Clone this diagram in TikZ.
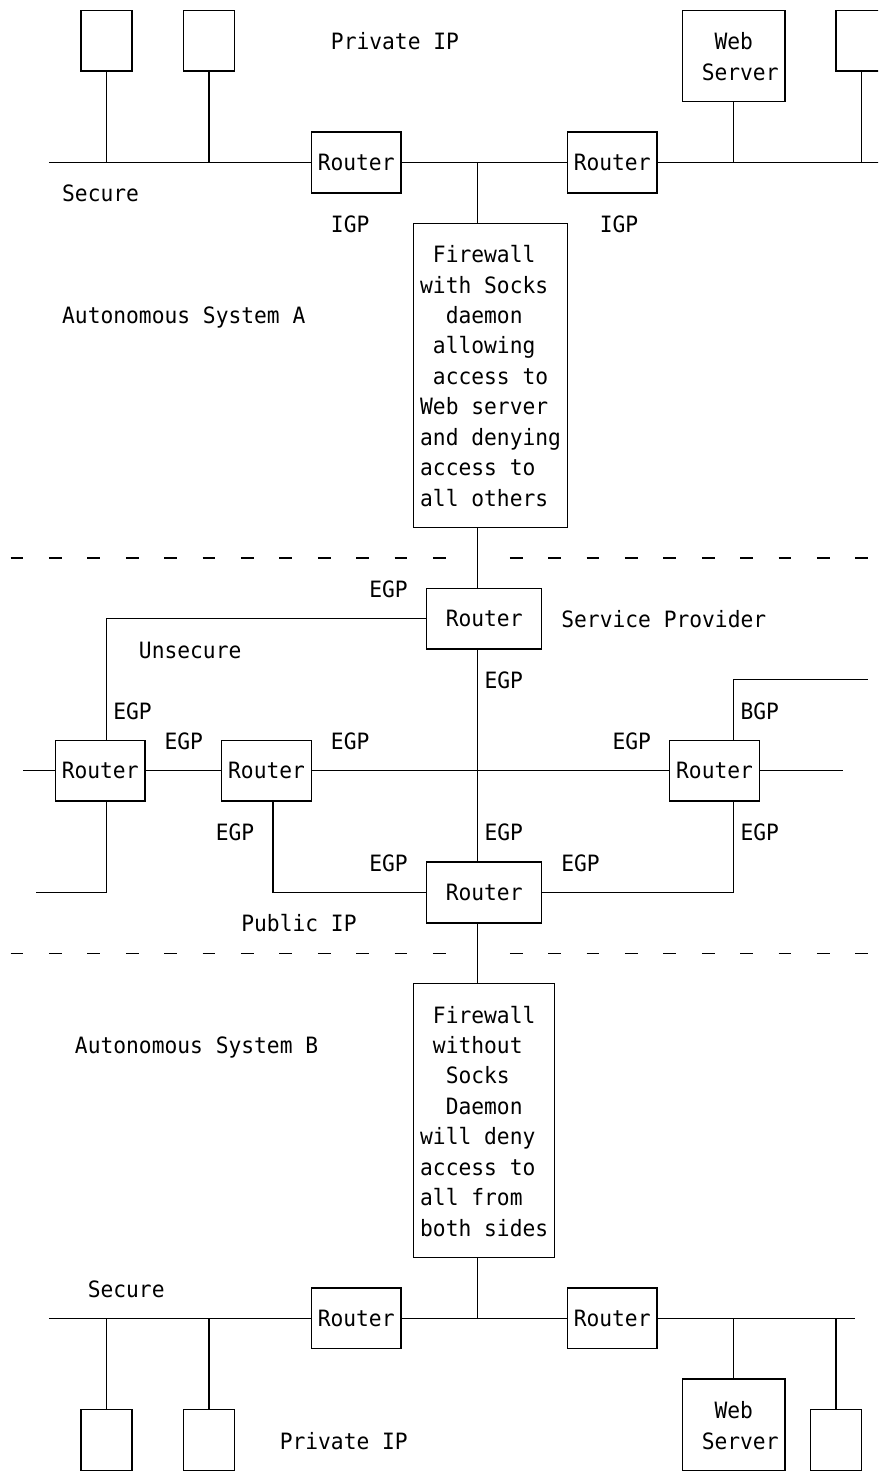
\documentclass[tikz,border=0pt]{standalone}
\usepackage{fontspec}
\usepackage{tikz}
\usetikzlibrary{arrows,shapes}

\newfontfamily\asciifont[FakeStretch=0.945]{DejaVu Sans Mono}
\newcommand{\artfont}{\asciifont\fontsize{11.25pt}{15.21pt}\selectfont}
\newcommand{\rs}{\rule[-3.1pt]{0pt}{15.21pt}}
\newcommand{\pad}{\hphantom{x}}

\begin{document}
\begin{tikzpicture}[x=6.4pt, y=-15.21pt,
    box/.style={rectangle, draw, line width=0.7pt, inner sep=0pt, font=\artfont},
    router/.style={box, minimum width=44.8pt, minimum height=30.42pt},
    bigrouter/.style={box, minimum width=57.6pt, minimum height=30.42pt},
    host/.style={box, minimum width=25.6pt, minimum height=30.42pt},
    server/.style={box, align=left, minimum width=51.2pt, minimum height=45.63pt},
    firewall/.style={box, align=left},
    lbl/.style={anchor=base west, inner sep=0pt, font=\artfont},
    link/.style={line width=0.7pt},
    border/.style={line width=0.7pt, dash pattern=on 6.4pt off 12.8pt}]

\useasboundingbox (-0.328,-0.339) rectangle (68.27,48.02);
\clip (-0.328,-0.339) rectangle (68.27,48.02);

% Autonomous System A
\node[host] (pcA1) at (8,1) {};
\node[host] (pcA2) at (16,1) {};
\node[server] (webA) at (57,1.5) {\pad\pad Web\rs\\\pad Server\rs};
\node[host] (pcA3) at (67,1) {};
\node[router] (rtA1) at (27.5,5) {Router};
\node[router] (rtA2) at (47.5,5) {Router};
\node[firewall, minimum width=76.8pt, minimum height=152.1pt] (fwA) at (38,12)
    {\pad Firewall\rs\\with Socks\\\pad\pad daemon\\\pad allowing\\\pad access to\\Web server\\and denying\\access to\\all others\rs};

% Service Provider
\node[bigrouter] (rtSP) at (37.5,20) {Router};
\node[router] (rtL) at (7.5,25) {Router};
\node[router] (rtM) at (20.5,25) {Router};
\node[router] (rtR) at (55.5,25) {Router};
\node[bigrouter] (rtB) at (37.5,29) {Router};

% Autonomous System B
\node[firewall, minimum width=70.4pt, minimum height=136.89pt] (fwB) at (37.5,36.5)
    {\pad Firewall\rs\\\pad without\\\pad\pad Socks\\\pad\pad Daemon\\will deny\\access to\\all from\\both sides\rs};
\node[router] (rtC1) at (27.5,43) {Router};
\node[router] (rtC2) at (47.5,43) {Router};
\node[host] (pcB1) at (8,47) {};
\node[host] (pcB2) at (16,47) {};
\node[server] (webB) at (57,46.5) {\pad\pad Web\rs\\\pad Server\rs};
\node[host] (pcB3) at (65,47) {};

% free ends
\coordinate (spine) at (37,0);
\coordinate (lanAw) at (3.5,5);
\coordinate (lanAe) at (68.5,5);
\coordinate (stubL) at (1.5,25);
\coordinate (stubLL) at (2.5,29);
\coordinate (stubR) at (65.5,25);
\coordinate (bgpEnd) at (67.5,22);
\coordinate (lanBw) at (3.5,43);
\coordinate (lanBe) at (66.5,43);

% zone borders
\draw[border] (0.5,18) -- (34.5,18);
\draw[border] (39.5,18) -- (67.5,18);
\draw[border] (0.5,31) -- (34.5,31);
\draw[border] (39.5,31) -- (67.5,31);

% LAN A
\draw[link] (lanAw) -- (rtA1.west);
\draw[link] (rtA1.east) -- (rtA2.west);
\draw[link] (rtA2.east) -- (lanAe);
\draw[link] (pcA1.south) -- (pcA1.south |- lanAw);
\draw[link] (pcA2.south) -- (pcA2.south |- lanAw);
\draw[link] (webA.south) -- (webA.south |- lanAe);
\draw[link] (pcA3.south) -- (pcA3.south |- lanAe);
\draw[link] (spine |- rtA1) -- (fwA.north -| spine);
\draw[link] (fwA.south -| spine) -- (rtSP.north -| spine);

% provider links
\draw[link] (rtSP.west) -| ([xshift=3.2pt]rtL.north);
\draw[link] (stubL) -- (rtL.west);
\draw[link] ([xshift=3.2pt]rtL.south) |- (stubLL);
\draw[link] (rtL.east) -- (rtM.west);
\draw[link] (rtM.east) -- (rtR.west);
\draw[link] (rtR.east) -- (stubR);
\draw[link] ([xshift=9.6pt]rtR.north) |- (bgpEnd);
\draw[link] ([xshift=3.2pt]rtM.south) |- (rtB.west);
\draw[link] ([xshift=9.6pt]rtR.south) |- (rtB.east);
\draw[link] (rtSP.south -| spine) -- (rtB.north -| spine);
\draw[link] (rtB.south -| spine) -- (fwB.north -| spine);

% LAN B
\draw[link] (fwB.south -| spine) -- (spine |- lanBw);
\draw[link] (lanBw) -- (rtC1.west);
\draw[link] (rtC1.east) -- (rtC2.west);
\draw[link] (rtC2.east) -- (lanBe);
\draw[link] (pcB1.north) -- (pcB1.north |- lanBw);
\draw[link] (pcB2.north) -- (pcB2.north |- lanBw);
\draw[link] (webB.north) -- (webB.north |- lanBe);
\draw[link] (pcB3.north) -- (pcB3.north |- lanBe);

% labels
\node[lbl] (privA) at (25.5,1.3) {Private IP};
\node[lbl] (secA) at (4.5,6.3) {Secure};
\node[lbl] (igpA1) at (25.5,7.3) {IGP};
\node[lbl] (igpA2) at (46.5,7.3) {IGP};
\node[lbl] (asA) at (4.5,10.3) {Autonomous System A};
\node[lbl] (egp1) at (28.5,19.3) {EGP};
\node[lbl] (sp) at (43.5,20.3) {Service Provider};
\node[lbl] (unsec) at (10.5,21.3) {Unsecure};
\node[lbl] (egp2) at (37.5,22.3) {EGP};
\node[lbl] (egp3) at (8.5,23.3) {EGP};
\node[lbl] (bgp) at (57.5,23.3) {BGP};
\node[lbl] (egp4) at (12.5,24.3) {EGP};
\node[lbl] (egp5) at (25.5,24.3) {EGP};
\node[lbl] (egp6) at (47.5,24.3) {EGP};
\node[lbl] (egp7) at (16.5,27.3) {EGP};
\node[lbl] (egp8) at (37.5,27.3) {EGP};
\node[lbl] (egp9) at (57.5,27.3) {EGP};
\node[lbl] (egp10) at (28.5,28.3) {EGP};
\node[lbl] (egp11) at (43.5,28.3) {EGP};
\node[lbl] (pub) at (18.5,30.3) {Public IP};
\node[lbl] (asB) at (5.5,34.3) {Autonomous System B};
\node[lbl] (secB) at (6.5,42.3) {Secure};
\node[lbl] (privB) at (21.5,47.3) {Private IP};

\end{tikzpicture}
\end{document}
